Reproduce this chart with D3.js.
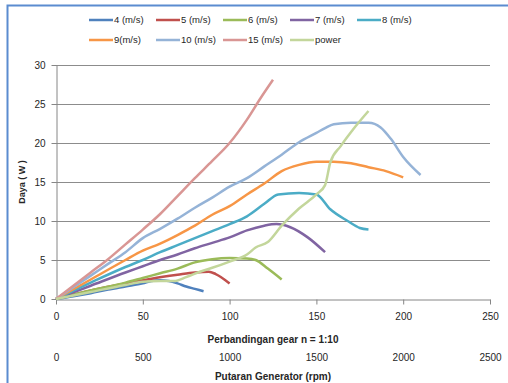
<!DOCTYPE html>
<html>
<head>
<style>
  body { margin: 0; background: #fff; font-family: "Liberation Sans", Arial, sans-serif; }
  .axis .domain { stroke: #868686; }
  .axis .tick line { stroke: #868686; }
  .axis text { fill: #262626; font-size: 10px; }
</style>
</head>
<body>
<div id="chart"></div>
<script src="https://d3js.org/d3.v7.min.js"></script>
<script>
  // series names and values: [gear ratio, power W]
  var names = ["4 (m/s)", "5 (m/s)", "6 (m/s)", "7 (m/s)", "8 (m/s)", "9(m/s)", "10 (m/s)", "15 (m/s)", "power"];
  var colors = ["#4f81bd", "#c0504d", "#9bbb59", "#8064a2", "#4bacc6", "#f79646", "#95b3d7", "#d99694", "#c3d69b"];

  var s4 = [[0,0],[10,0.35],[20,0.75],[30,1.2],[40,1.6],[50,2.0],[55,2.3],[60,2.4],[65,2.3],[70,2.0],[75,1.6],[80,1.3],[85,1.0]];
  var s5 = [[0,0],[20,1.1],[40,2.0],[55,2.6],[70,3.1],[80,3.4],[88,3.5],[92,3.2],[100,2.0]];
  var s6 = [[0,0],[20,1.1],[40,2.1],[50,2.7],[60,3.3],[70,3.9],[80,4.7],[90,5.1],[100,5.25],[110,5.2],[115,5.0],[122,3.9],[130,2.5]];
  var s7 = [[0,0],[20,1.7],[40,3.4],[50,4.2],[60,5.0],[70,5.7],[80,6.5],[90,7.2],[100,7.9],[110,8.8],[120,9.4],[127,9.6],[135,9.2],[145,7.9],[155,6.0]];
  var s8 = [[0,0],[20,2.1],[40,4.1],[50,5.0],[60,6.0],[70,6.9],[80,7.8],[90,8.7],[100,9.6],[110,10.6],[120,12.2],[128,13.4],[140,13.6],[150,13.4],[158,11.5],[168,10.0],[175,9.1],[180,8.9]];
  var s9 = [[0,0],[20,2.5],[40,5.0],[50,6.2],[60,7.1],[70,8.2],[80,9.4],[90,10.8],[100,11.9],[110,13.4],[120,14.8],[130,16.4],[140,17.2],[150,17.6],[160,17.6],[170,17.4],[180,16.9],[190,16.4],[200,15.6]];
  var s10 = [[0,0],[20,3.0],[30,4.5],[40,6.0],[50,7.8],[60,9.0],[70,10.3],[80,11.7],[90,13.0],[100,14.4],[110,15.5],[120,17.0],[130,18.5],[140,20.1],[150,21.3],[155,21.9],[160,22.4],[170,22.6],[180,22.6],[187,22.0],[193,20.5],[200,18.2],[210,15.9]];
  var s15 = [[0,0],[20,3.4],[30,5.1],[40,7.0],[50,8.9],[60,10.9],[70,13.2],[80,15.5],[90,17.7],[100,20.0],[110,23.0],[118,25.8],[125,28.1]];
  var power = [[0,0],[20,0.9],[40,1.8],[50,2.2],[60,2.3],[68,2.3],[75,2.8],[83,3.5],[90,4.0],[100,4.8],[110,5.7],[115,6.6],[122,7.3],[130,9.4],[140,11.6],[150,13.4],[155,14.6],[158,17.5],[164,19.6],[171,21.7],[180,24.1]];

  var series = [s4, s5, s6, s7, s8, s9, s10, s15, power];
  var yTicks = [0, 5, 10, 15, 20, 25, 30];
  var xTicks = [0, 50, 100, 150, 200, 250];
  var rpmTicks = [0, 500, 1000, 1500, 2000, 2500];

  var W = 508, H = 383;
  var margin = { top: 65, left: 56, right: 18, bottom: 84 };

  var svg = d3.select("#chart").append("svg")
      .attr("width", W)
      .attr("height", H);

  // outer chart frame
  svg.append("rect")
      .attr("x", 7.5).attr("y", 5.5)
      .attr("width", W + 10).attr("height", H + 10)
      .attr("fill", "none")
      .attr("stroke", "#5b8cd0")
      .attr("stroke-width", 2);

  var x = d3.scaleLinear().domain([0, 250]).range([margin.left, W - margin.right]);
  var y = d3.scaleLinear().domain([0, 30]).range([H - margin.bottom, margin.top]);
  var rpm = d3.scaleLinear().domain([0, 2500]).range([margin.left, W - margin.right]);

  // horizontal grid
  svg.append("g")
      .selectAll("line")
      .data(yTicks.slice(1))
      .enter().append("line")
      .attr("x1", x(0)).attr("x2", x(250))
      .attr("y1", function (d) { return Math.round(y(d)) + 0.5; })
      .attr("y2", function (d) { return Math.round(y(d)) + 0.5; })
      .attr("stroke", "#8c8c8c");

  svg.append("g")
      .attr("class", "y axis")
      .attr("transform", "translate(" + (x(0) + 0.5) + ",0)")
      .call(d3.axisLeft(y).tickValues(yTicks).tickSize(5).tickSizeOuter(0).tickPadding(6));

  svg.append("g")
      .attr("class", "x axis")
      .attr("transform", "translate(0," + (Math.round(y(0)) + 0.5) + ")")
      .call(d3.axisBottom(x).tickValues(xTicks).tickSize(5).tickSizeOuter(0).tickPadding(8));

  // second scale: generator rpm (labels only)
  var rpmAxis = svg.append("g")
      .attr("class", "x2 axis")
      .attr("transform", "translate(0," + (H - 33) + ")")
      .call(d3.axisBottom(rpm).tickValues(rpmTicks).tickFormat(d3.format("d")).tickSize(0).tickPadding(4));
  rpmAxis.select(".domain").remove();

  svg.append("text")
      .attr("x", (x(0) + x(250)) / 2)
      .attr("y", 343)
      .attr("text-anchor", "middle")
      .style("font-size", "10px")
      .style("font-weight", "bold")
      .style("fill", "#262626")
      .text("Perbandingan gear n = 1:10");

  svg.append("text")
      .attr("x", (x(0) + x(250)) / 2)
      .attr("y", 380)
      .attr("text-anchor", "middle")
      .style("font-size", "10px")
      .style("font-weight", "bold")
      .style("fill", "#262626")
      .text("Putaran  Generator (rpm)");

  svg.append("text")
      .attr("transform", "translate(25," + ((y(0) + y(30)) / 2) + ") rotate(-90)")
      .attr("text-anchor", "middle")
      .style("font-size", "9px")
      .style("font-weight", "bold")
      .style("fill", "#262626")
      .text("Daya ( W )");

  var line = d3.line()
      .x(function (d) { return x(d[0]); })
      .y(function (d) { return y(d[1]); })
      .curve(d3.curveMonotoneX);

  svg.append("g")
      .selectAll("path")
      .data(series)
      .enter().append("path")
      .attr("d", line)
      .attr("fill", "none")
      .attr("stroke", function (d, i) { return colors[i]; })
      .attr("stroke-width", 2.5)
      .attr("stroke-linejoin", "round");

  // legend, two rows
  var legend = svg.append("g")
      .selectAll("g")
      .data(names)
      .enter().append("g")
      .attr("transform", function (d, i) {
        var col = i < 5 ? i : i - 5;
        var row = i < 5 ? 0 : 1;
        return "translate(" + (89 + col * 67) + "," + (20 + row * 20) + ")";
      });

  legend.append("line")
      .attr("x1", 0).attr("x2", 24)
      .attr("stroke", function (d, i) { return colors[i]; })
      .attr("stroke-width", 2.5);

  legend.append("text")
      .attr("x", 25)
      .attr("dy", "0.35em")
      .style("font-size", "9.5px")
      .style("fill", "#262626")
      .text(function (d) { return d; });
</script>
</body>
</html>
